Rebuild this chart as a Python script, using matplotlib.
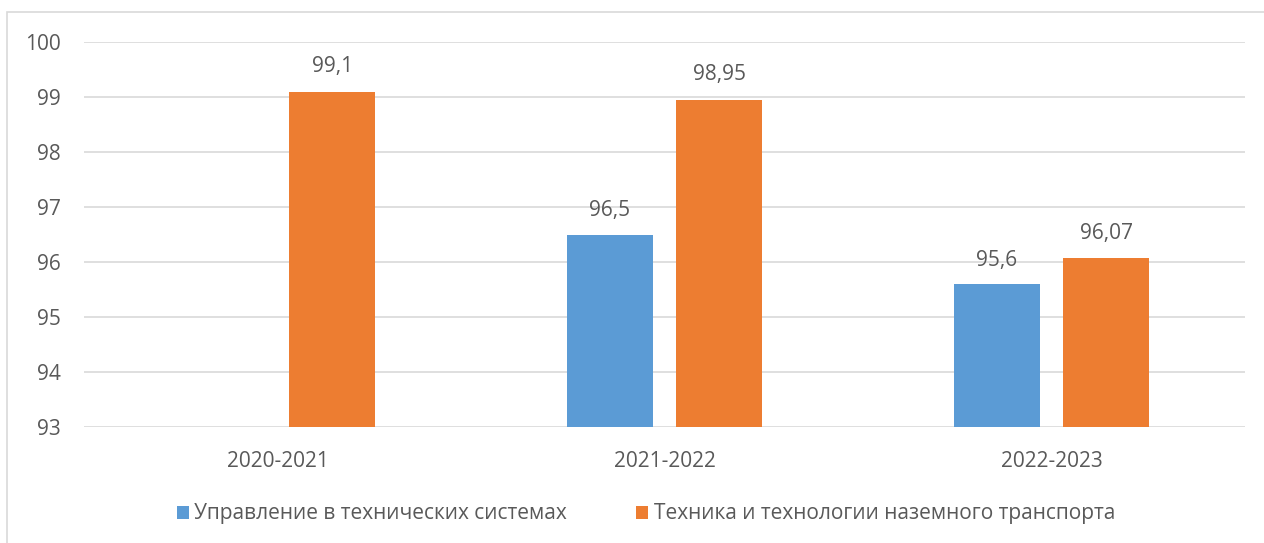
import matplotlib.pyplot as plt
import numpy as np
from matplotlib.patches import Rectangle

categories = ["2020-2021", "2021-2022", "2022-2023"]
series_names = ["Управление в технических системах", "Техника и технологии наземного транспорта"]
control_values = [np.nan, 96.5, 95.6]
transport_values = [99.1, 98.95, 96.07]
control_labels = ["", "96,5", "95,6"]
transport_labels = ["99,1", "98,95", "96,07"]
y_ticks = [93, 94, 95, 96, 97, 98, 99, 100]

BLUE = "#5B9BD5"
ORANGE = "#ED7D31"
TEXT = "#595959"
GRID = "#D9D9D9"
FS = 15

plt.rcParams["font.family"] = ["Open Sans", "DejaVu Sans"]

fig = plt.figure(figsize=(12.64, 5.43), dpi=100)
ax = fig.add_axes([84 / 1264, 116 / 543, (1245 - 84) / 1264, (427 - 42) / 543])

x = np.arange(len(categories))
width = 0.222
offset = 0.142
bars_a = ax.bar(x - offset, control_values, width, color=BLUE, label=series_names[0], zorder=3)
bars_b = ax.bar(x + offset, transport_values, width, color=ORANGE, label=series_names[1], zorder=3)

ax.set_ylim(93, 100)
ax.set_xlim(-0.5, 2.5)
ax.set_yticks(y_ticks)
ax.set_xticks(x)
ax.set_xticklabels(categories)
ax.tick_params(axis="both", length=0, labelsize=FS, colors=TEXT)
ax.tick_params(axis="y", pad=17)
ax.tick_params(axis="x", pad=17)
ax.grid(axis="y", color=GRID, linewidth=1.2, zorder=0)
for side in ["top", "right", "left", "bottom"]:
    ax.spines[side].set_visible(False)

for bar, lab in zip(bars_a, control_labels):
    if lab:
        ax.annotate(lab, (bar.get_x() + bar.get_width() / 2, bar.get_height()),
                    xytext=(0, 17), textcoords="offset points", ha="center", va="center",
                    fontsize=FS, color=TEXT)
for bar, lab in zip(bars_b, transport_labels):
    ax.annotate(lab, (bar.get_x() + bar.get_width() / 2, bar.get_height()),
                xytext=(0, 18), textcoords="offset points", ha="center", va="center",
                fontsize=FS, color=TEXT)

fig.legend(loc="center", bbox_to_anchor=(0.511, 1 - 514 / 543), ncol=2, frameon=False,
           fontsize=FS, labelcolor=TEXT, handlelength=0.6, handleheight=0.6,
           handletextpad=0.25, columnspacing=3.3)

fig.patches.append(Rectangle((7 / 1264, -0.1), 1.2, 1 - 12 / 543 + 0.1, transform=fig.transFigure,
                             fill=False, edgecolor=GRID, linewidth=1.2))

fig.savefig("out.png", dpi=100)
